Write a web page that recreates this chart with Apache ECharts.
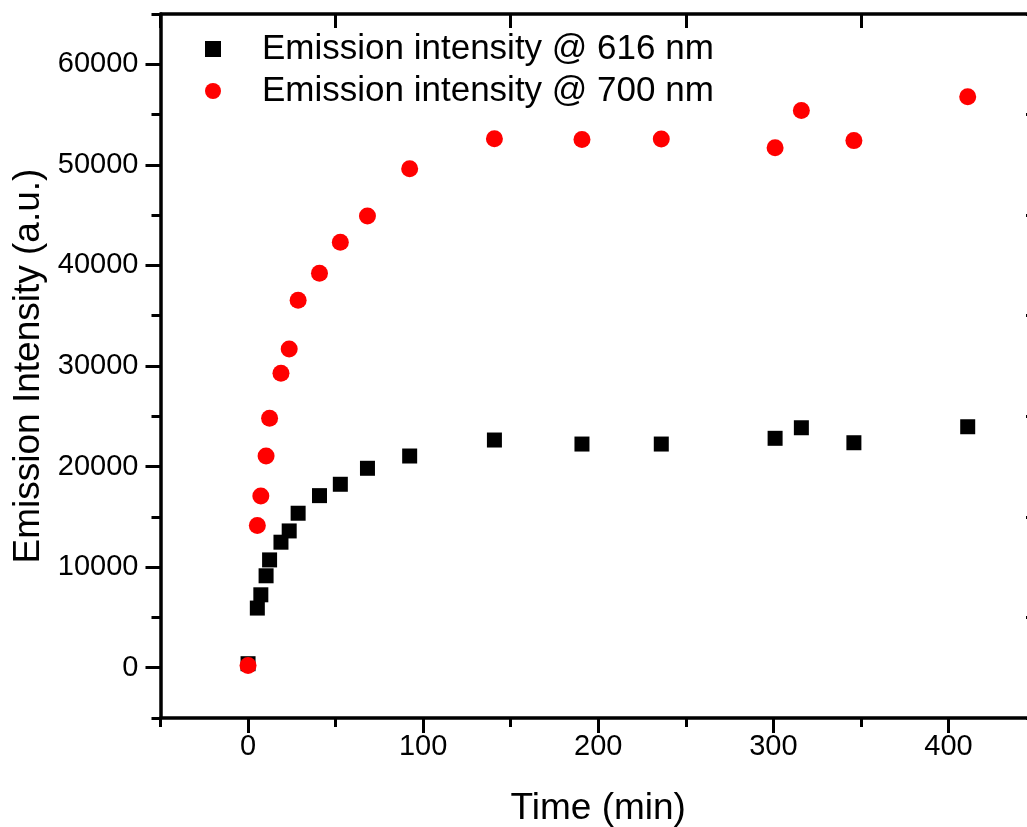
<!DOCTYPE html>
<html>
<head>
<meta charset="utf-8">
<script src="https://cdn.jsdelivr.net/npm/echarts@6/dist/echarts.min.js"></script>
<style>
html,body{margin:0;padding:0;background:#fff;}
#chart{width:1027px;height:827px;}
</style>
</head>
<body>
<div id="chart"></div>
<script>
// ---- data ----
var timeMin = [0, 5.3, 7.3, 10.3, 12.3, 18.8, 23.5, 28.6, 40.8, 52.7, 68.2, 92.3, 140.7, 190.7, 236, 301, 316, 346, 411];
var emission616 = [400, 5930, 7250, 9140, 10720, 12480, 13600, 15360, 17110, 18240, 19830, 21050, 22640, 22240, 22240, 22810, 23860, 22370, 23960];
var emission700 = [230, 14130, 17080, 21050, 24800, 29270, 31680, 36540, 39230, 42300, 44920, 49620, 52600, 52530, 52560, 51700, 55410, 52410, 56770];
var seriesNames = ['Emission intensity @ 616 nm', 'Emission intensity @ 700 nm'];
var xMajorTicks = [0, 100, 200, 300, 400];
var xMinorTicks = [-50, 50, 150, 250, 350, 450];
var yMajorTicks = [0, 10000, 20000, 30000, 40000, 50000, 60000];
var yMinorTicks = [-5000, 5000, 15000, 25000, 35000, 45000, 55000, 65000];
var xTitle = 'Time (min)';
var yTitle = 'Emission Intensity (a.u.)';

function pairs(xs, ys) { return xs.map(function (x, i) { return [x, ys[i]]; }); }
function plain(v) { return String(v); }

var chart = echarts.init(document.getElementById('chart'), null, {renderer: 'canvas'});
var FONT = 'Liberation Sans, Arial, sans-serif';
var axisLine = {show: true, onZero: false, lineStyle: {color: '#000', width: 3.5}};
var noLine = {show: false, onZero: false};
var tickStyle = {color: '#000', width: 3};

chart.setOption({
  animation: false,
  backgroundColor: '#fff',
  grid: {left: 160.5, right: -9, top: 14, bottom: 109, containLabel: false, outerBoundsMode: 'none'},
  legend: {
    orient: 'vertical', left: 205, top: 31, padding: 0,
    itemWidth: 16, itemHeight: 16, itemGap: 6,
    textStyle: {fontFamily: FONT, fontSize: 35, color: '#000', lineHeight: 36, padding: [0, 0, 0, 36]},
    data: [{name: seriesNames[0], icon: 'rect'}, {name: seriesNames[1], icon: 'circle'}]
  },
  xAxis: [
    {type: 'value', gridIndex: 0, position: 'bottom', min: -50, max: 450,
     axisLine: axisLine,
     axisTick: {show: true, inside: false, length: 15, customValues: xMajorTicks, lineStyle: tickStyle},
     axisLabel: {show: true, customValues: xMajorTicks, formatter: plain, fontFamily: FONT, fontSize: 29, color: '#000', margin: 14},
     splitLine: {show: false},
     name: xTitle, nameLocation: 'middle', nameGap: 72,
     nameTextStyle: {fontFamily: FONT, fontSize: 37, color: '#000'}},
    {type: 'value', gridIndex: 0, position: 'bottom', min: -50, max: 450,
     axisLine: noLine,
     axisTick: {show: true, inside: false, length: 9, customValues: xMinorTicks, lineStyle: tickStyle},
     axisLabel: {show: false}, splitLine: {show: false}},
    {type: 'value', gridIndex: 0, position: 'top', min: -50, max: 450,
     axisLine: axisLine,
     axisTick: {show: true, inside: true, length: 14, customValues: xMinorTicks, lineStyle: tickStyle},
     axisLabel: {show: false}, splitLine: {show: false}}
  ],
  yAxis: [
    {type: 'value', gridIndex: 0, position: 'left', min: -5000, max: 65000,
     axisLine: axisLine,
     axisTick: {show: true, inside: false, length: 15, customValues: yMajorTicks, lineStyle: tickStyle},
     axisLabel: {show: true, customValues: yMajorTicks, formatter: plain, fontFamily: FONT, fontSize: 29, color: '#000', margin: 22},
     splitLine: {show: false},
     name: yTitle, nameLocation: 'middle', nameGap: 112, nameRotate: 90,
     nameTextStyle: {fontFamily: FONT, fontSize: 37, color: '#000'}},
    {type: 'value', gridIndex: 0, position: 'left', min: -5000, max: 65000,
     axisLine: noLine,
     axisTick: {show: true, inside: false, length: 9, customValues: yMinorTicks, lineStyle: tickStyle},
     axisLabel: {show: false}, splitLine: {show: false}},
    {type: 'value', gridIndex: 0, position: 'right', min: -5000, max: 65000,
     axisLine: axisLine,
     axisTick: {show: true, inside: true, length: 10, customValues: yMinorTicks, lineStyle: tickStyle},
     axisLabel: {show: false}, splitLine: {show: false}}
  ],
  series: [
    {name: seriesNames[0], type: 'scatter', xAxisIndex: 0, yAxisIndex: 0,
     symbol: 'rect', symbolSize: 15, itemStyle: {color: '#000', opacity: 1}, z: 2,
     data: pairs(timeMin, emission616)},
    {name: seriesNames[1], type: 'scatter', xAxisIndex: 0, yAxisIndex: 0,
     symbol: 'circle', symbolSize: 17, itemStyle: {color: '#ff0000', opacity: 1}, z: 3,
     data: pairs(timeMin, emission700)}
  ]
});
</script>
</body>
</html>
